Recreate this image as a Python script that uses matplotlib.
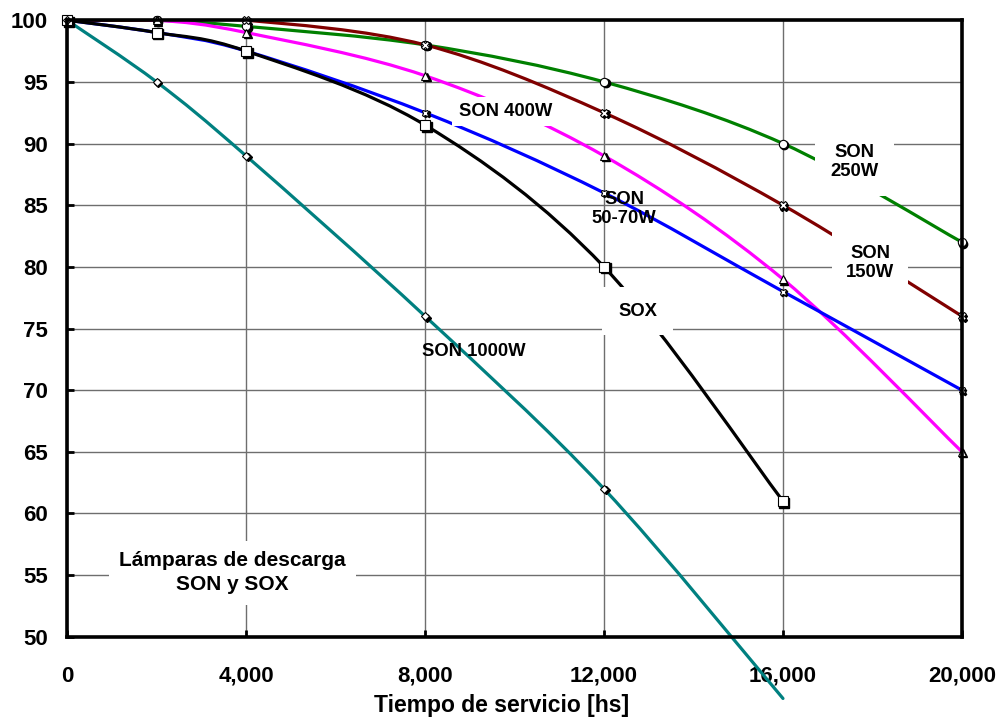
import numpy as np
import matplotlib
matplotlib.use("Agg")
import matplotlib.pyplot as plt
from matplotlib.path import Path
from matplotlib.patches import PathPatch
from matplotlib.ticker import FuncFormatter
import matplotlib.transforms as mtransforms

plt.rcParams['font.family'] = ['Liberation Sans', 'DejaVu Sans']
plt.rcParams['font.weight'] = 'bold'

## ================= DATOS =================
horas = [0, 2000, 4000, 8000, 12000, 16000, 20000]

son_250 = [100, 100, 99.5, 98, 95, 90, 82]
son_150 = [100, 100, 100, 98, 92.5, 85, 76]
son_400 = [100, 100, 99, 95.5, 89, 79, 65]
son_50_70 = [100, 99, 97.5, 92.5, 86, 78, 70]
sox_x = [0, 2000, 4000, 8000, 12000, 16000]
sox = [100, 99, 97.5, 91.5, 80, 61]
son_1000_x = [0, 2000, 4000, 8000, 12000, 16000]
son_1000 = [100, 95, 89, 76, 62, 45]

series = [
    (horas, son_250, '#008000', 'o', 6),
    (horas, son_150, '#800000', 'X', 6),
    (horas, son_400, '#ff00ff', '^', 6),
    (horas, son_50_70, '#0000ff', 'X', 5),
    (sox_x, sox, '#000000', 's', 7),
    (son_1000_x, son_1000, '#008080', 'D', 4),
]


def curva_suave(x, y):
    # curva tipo Excel (Catmull-Rom -> Bezier)
    p = np.column_stack([x, y]).astype(float)
    n = len(p)
    verts = [p[0]]
    codes = [Path.MOVETO]
    for i in range(n - 1):
        p0 = p[i - 1] if i > 0 else p[i]
        p1 = p[i]
        p2 = p[i + 1]
        p3 = p[i + 2] if i + 2 < n else p[i + 1]
        c1 = p1 + (p2 - p0) / 6.0
        c2 = p2 - (p3 - p1) / 6.0
        verts += [c1, c2, p2]
        codes += [Path.CURVE4] * 3
    return Path(verts, codes)


fig = plt.figure(figsize=(10.01, 7.22), dpi=100)
ax = fig.add_axes([0.067, 0.118, 0.894, 0.854])
ax.set_xlim(0, 20000)
ax.set_ylim(50, 100)

ax.set_xticks(range(0, 20001, 4000))
ax.set_yticks(range(50, 101, 5))
ax.xaxis.set_major_formatter(FuncFormatter(lambda v, p: f"{int(v):,}"))
ax.grid(True, color='#6e6e6e', lw=1.0)
ax.set_axisbelow(True)
ax.tick_params(direction='in', length=5, width=2, labelsize=16, color='black')
ax.tick_params(axis='x', pad=21)
ax.tick_params(axis='y', pad=14)
for lab in ax.get_xticklabels() + ax.get_yticklabels():
    lab.set_fontweight('bold')
for s in ax.spines.values():
    s.set_linewidth(2.6)
    s.set_zorder(6)

ax.set_xlabel("Tiempo de servicio [hs]", fontsize=16.5, fontweight='bold', labelpad=6)
ax.xaxis.set_label_coords(0.486, -0.092)

sombra = mtransforms.offset_copy(ax.transData, fig=fig, x=1.5, y=-1.5, units='dots')
for x, y, col, mk, ms in series:
    patch = PathPatch(curva_suave(x, y), fill=False, ec=col, lw=2.3,
                      capstyle='round', joinstyle='round', zorder=3,
                      transform=ax.transData, clip_on=(col != '#008080'))
    ax.add_patch(patch)
    xs = [a for a, b in zip(x, y) if b >= 50]
    ys = [b for b in y if b >= 50]
    ax.plot(xs, ys, ls='none', marker=mk, ms=ms, mfc='black', mec='black',
            transform=sombra, zorder=4, clip_on=False)
    ax.plot(xs, ys, ls='none', marker=mk, ms=ms, mfc='white', mec='black',
            mew=0.8, zorder=5, clip_on=False)

blanco = dict(boxstyle='square,pad=0.35', fc='white', ec='none')
ax.text(9800, 92.6, "SON 400W", fontsize=13.3, fontweight='bold', ha='center',
        va='center', bbox=blanco, zorder=5)
ax.text(12450, 84.7, "SON\n50-70W", fontsize=13.3, fontweight='bold', ha='center',
        va='center', linespacing=1.1, zorder=5)
ax.text(12750, 76.4, "SOX", fontsize=13.3, fontweight='bold', ha='center',
        va='center', bbox=dict(boxstyle='square,pad=0.85', fc='white', ec='none'), zorder=5)
ax.text(17600, 88.5, "SON\n250W", fontsize=13.3, fontweight='bold', ha='center',
        va='center', linespacing=1.2,
        bbox=dict(boxstyle='square,pad=0.85', fc='white', ec='none'), zorder=5)
ax.text(17950, 80.3, "SON\n150W", fontsize=13.3, fontweight='bold', ha='center',
        va='center', linespacing=1.2,
        bbox=dict(boxstyle='square,pad=0.75', fc='white', ec='none'), zorder=5)
ax.text(9100, 73.1, "SON 1000W", fontsize=13.3, fontweight='bold', ha='center',
        va='center', zorder=5)
ax.text(3700, 55.2, "Lámparas de descarga\nSON y SOX", fontsize=15, fontweight='bold',
        ha='center', va='center', linespacing=1.35,
        bbox=dict(boxstyle='square,pad=0.5', fc='white', ec='none'), zorder=5)

fig.savefig("out.png", dpi=100)
